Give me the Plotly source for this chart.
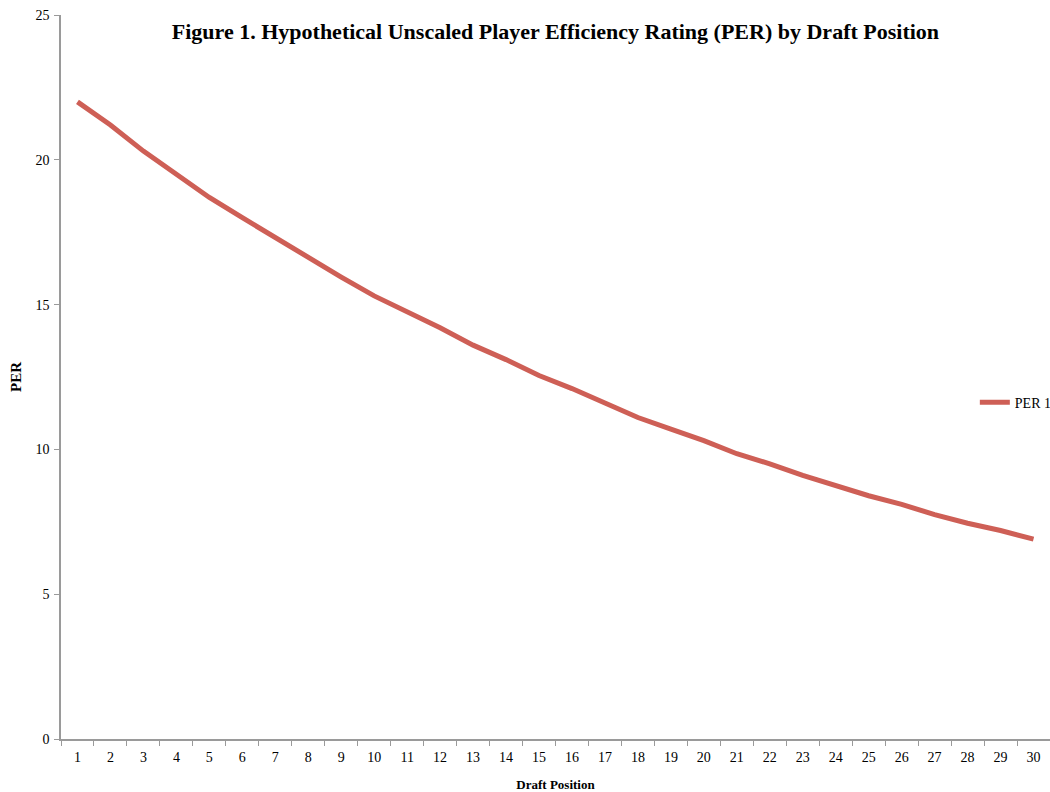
import plotly.graph_objects as go

draft_positions = [str(i) for i in range(1, 31)]
per_values = [22.0, 21.2, 20.3, 19.5, 18.7, 18.0, 17.3, 16.6, 15.95, 15.3,
              14.75, 14.2, 13.6, 13.1, 12.55, 12.1, 11.6, 11.1, 10.7, 10.3,
              9.85, 9.5, 9.1, 8.75, 8.4, 8.1, 7.75, 7.45, 7.2, 6.9]
y_ticks = [0, 5, 10, 15, 20, 25]

FONT = "Liberation Serif, Times New Roman, serif"
AXIS_COLOR = "#9a9a9a"

fig = go.Figure()
fig.add_trace(go.Scatter(
    x=draft_positions, y=per_values, mode="lines", name="PER 1",
    line=dict(color="rgb(206,95,86)", width=5),
))

fig.update_layout(
    width=1050, height=792,
    margin=dict(l=61, r=0, t=15, b=53, autoexpand=False),
    paper_bgcolor="white", plot_bgcolor="white",
    font=dict(family=FONT, color="black", size=14),
    title=dict(
        text="<b>Figure 1. Hypothetical Unscaled Player Efficiency Rating (PER) by Draft Position</b>",
        x=0.529, xanchor="center", y=1 - 31 / 792, yanchor="middle",
        font=dict(family=FONT, size=22, color="black"),
    ),
    showlegend=True,
    legend=dict(
        x=0.924, xanchor="left", y=0.4645, yanchor="middle",
        bgcolor="rgba(0,0,0,0)", font=dict(family=FONT, size=14, color="black"),
        itemwidth=30,
    ),
)

fig.update_xaxes(
    type="category", range=[-0.5, 29.5],
    showline=True, linecolor=AXIS_COLOR, linewidth=1.5,
    ticks="outside", tickson="boundaries", ticklen=5, tickcolor=AXIS_COLOR,
    ticklabelstandoff=4, automargin=False,
    showgrid=False, zeroline=False,
    tickfont=dict(family=FONT, size=14, color="black"),
    title=dict(text="<b>Draft Position</b>", font=dict(family=FONT, size=13, color="black"), standoff=18),
)
fig.update_yaxes(
    range=[0, 25], tickvals=y_ticks,
    showline=True, linecolor=AXIS_COLOR, linewidth=1.5,
    ticks="outside", ticklen=5, tickcolor=AXIS_COLOR,
    ticklabelstandoff=2, automargin=False,
    showgrid=False, zeroline=False,
    tickfont=dict(family=FONT, size=14, color="black"),
    title=dict(text="<b>PER</b>", font=dict(family=FONT, size=15, color="black"), standoff=10),
)

fig.write_html("out.html")
